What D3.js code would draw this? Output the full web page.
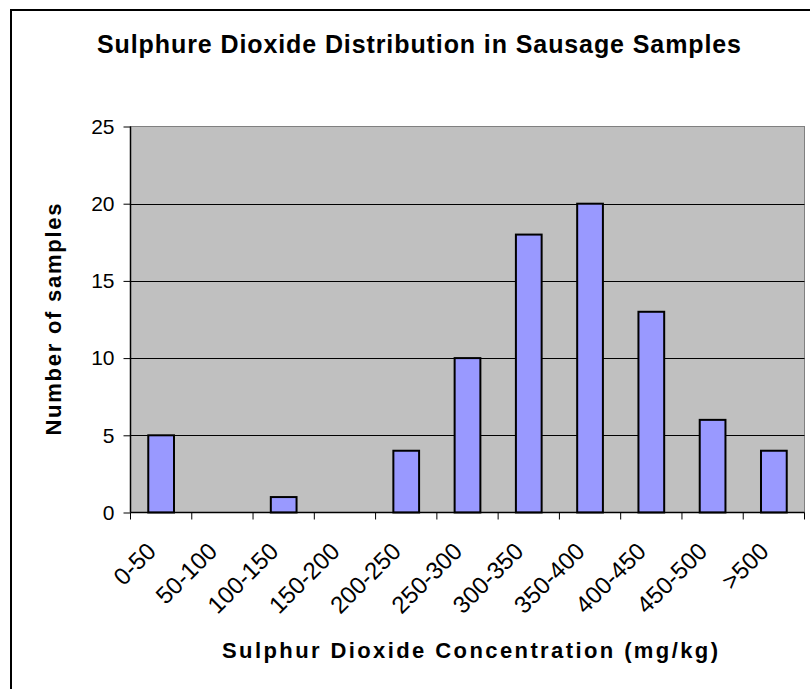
<!DOCTYPE html>
<html><head><meta charset="utf-8">
<script src="https://cdn.jsdelivr.net/npm/d3@7/dist/d3.min.js"></script>
<style>
body{margin:0;background:#fff;}
svg{display:block;font-family:"Liberation Sans",Arial,sans-serif;}
</style></head>
<body>
<svg id="c" width="810" height="689"></svg>
<script>
const categories = ["0-50","50-100","100-150","150-200","200-250","250-300","300-350","350-400","400-450","450-500",">500"];
const counts = [5,0,1,0,4,10,18,20,13,6,4];
const yTicks = [0,5,10,15,20,25];
const title = "Sulphure Dioxide Distribution in Sausage Samples";
const xTitle = "Sulphur Dioxide Concentration (mg/kg)";
const yTitle = "Number of samples";

const svg = d3.select("#c");
const L = 130.5, R = 804.5, T = 126.5, B = 512.5;

// outer chart border
svg.append("rect").attr("x",11).attr("y",10).attr("width",820).attr("height",700)
  .attr("fill","#fff").attr("stroke","#000").attr("stroke-width",2);

const x = d3.scaleBand().domain(categories).range([L,R]).paddingInner(0.58).paddingOuter(0.29);
const xb = d3.scaleBand().domain(categories).range([L,R]);
const y = d3.scaleLinear().domain([0,25]).range([B,T]);

// plot area
svg.append("rect").attr("x",L).attr("y",T).attr("width",R-L).attr("height",B-T)
  .attr("fill","#C0C0C0").attr("stroke","#808080").attr("stroke-width",1);

// gridlines
svg.append("g").selectAll("line").data(yTicks.filter(d=>d>0 && d<25)).join("line")
  .attr("x1",L).attr("x2",R).attr("y1",d=>Math.round(y(d))+0.5).attr("y2",d=>Math.round(y(d))+0.5)
  .attr("stroke","#000").attr("stroke-width",1);

// bars
svg.append("g").selectAll("rect").data(counts).join("rect")
  .attr("x",(d,i)=>x(categories[i]))
  .attr("y",d=>y(d))
  .attr("width",x.bandwidth())
  .attr("height",d=>B-y(d))
  .attr("fill","#9999FF").attr("stroke","#000").attr("stroke-width",2)
  .attr("display",d=>d>0?null:"none");

// y axis
const ya = svg.append("g").attr("transform",`translate(${L},0)`)
  .call(d3.axisLeft(y).tickValues(yTicks).tickSize(7).tickPadding(9));
ya.select(".domain").attr("stroke","#000").attr("stroke-width",1.5).attr("d",`M0,${T}V${B}`);
ya.selectAll(".tick line").attr("stroke","#000");
ya.selectAll("text").attr("font-size",21).attr("fill","#000").attr("font-family","Liberation Sans, Arial, sans-serif");

// x axis
const xa = svg.append("g").attr("transform",`translate(0,${B})`);
xa.append("line").attr("x1",L).attr("x2",R).attr("y1",0).attr("y2",0).attr("stroke","#000").attr("stroke-width",1.5);
const bounds = categories.map(c=>xb(c)).concat([R]);
xa.selectAll(".tk").data(bounds).join("line").attr("class","tk")
  .attr("x1",d=>d).attr("x2",d=>d).attr("y1",0).attr("y2",7).attr("stroke","#000");
xa.selectAll(".lab").data(categories).join("text").attr("class","lab")
  .attr("transform",c=>`translate(${xb(c)+xb.bandwidth()/2-16},${28}) rotate(-45)`)
  .attr("text-anchor","end").attr("dy","0.72em")
  .attr("font-size",24).attr("fill","#000").text(c=>c);

// titles
svg.append("text").attr("x",419).attr("y",53).attr("text-anchor","middle")
  .attr("font-size",25).attr("font-weight","bold")
  .attr("textLength",644).attr("lengthAdjust","spacing").text(title);
svg.append("text").attr("x",470).attr("y",658).attr("text-anchor","middle")
  .attr("font-size",22).attr("font-weight","bold")
  .attr("textLength",496).attr("lengthAdjust","spacing").text(xTitle);
svg.append("text").attr("transform",`translate(61,${(T+B)/2}) rotate(-90)`).attr("text-anchor","middle")
  .attr("font-size",22).attr("font-weight","bold")
  .attr("textLength",232).attr("lengthAdjust","spacing").text(yTitle);
</script>
</body></html>
